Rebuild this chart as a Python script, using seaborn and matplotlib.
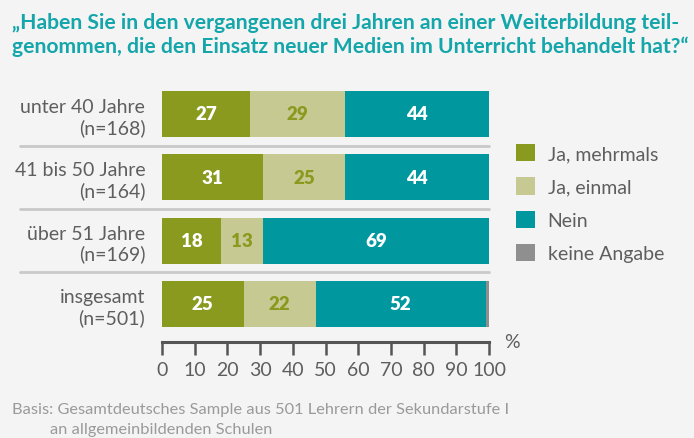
import numpy as np
import pandas as pd
import matplotlib
matplotlib.use("Agg")
import matplotlib.pyplot as plt
import matplotlib.patches as mpatches
import seaborn as sns

# Daten
gruppen = ["unter 40 Jahre\n(n=168)", "41 bis 50 Jahre\n(n=164)",
           "über 51 Jahre\n(n=169)", "insgesamt\n(n=501)"]
serien = ["Ja, mehrmals", "Ja, einmal", "Nein", "keine Angabe"]
ja_mehrmals = [27, 31, 18, 25]
ja_einmal = [29, 25, 13, 22]
nein = [44, 44, 69, 52]
keine_angabe = [0, 0, 0, 1]
x_ticks = list(range(0, 101, 10))

farben = ["#8a9a1e", "#c6c992", "#00989e", "#8f8f8f"]
label_farben = ["white", "#8a9a1e", "white", None]
bg = "#f4f4f4"
text_grau = "#5e5e5e"

sns.set_style("white")
plt.rcParams["font.family"] = ["Lato", "DejaVu Sans"]

werte = [ja_mehrmals, ja_einmal, nein, keine_angabe]
df = pd.DataFrame({"gruppe": gruppen})
kum = np.cumsum(np.array(werte), axis=0)

fig = plt.figure(figsize=(6.94, 4.39), dpi=100, facecolor=bg)
ax = fig.add_axes([162 / 694, (439 - 343) / 439, 327 / 694, 259.7 / 439])
ax.set_facecolor(bg)

# gestapelte Balken: von hinten (Summe) nach vorne zeichnen
for i in reversed(range(len(serien))):
    df["wert"] = kum[i]
    sns.barplot(data=df, x="wert", y="gruppe", color=farben[i], width=0.726,
                saturation=1, linewidth=0, ax=ax)

# Werte in die Balken
for i in range(3):
    for j, v in enumerate(werte[i]):
        links = kum[i][j] - v
        ax.text(links + v / 2, j, str(v), ha="center", va="center",
                color=label_farben[i], fontsize=13.5, fontweight="heavy")

ax.set_xlim(0, 100)
ax.set_ylim(3.6, -0.5)
ax.set_xlabel("")
ax.set_ylabel("")
ax.set_xticks(x_ticks)
ax.set_xticklabels([str(t) for t in x_ticks])

for s in ["top", "right", "left"]:
    ax.spines[s].set_visible(False)
ax.spines["bottom"].set_color("#555555")
ax.spines["bottom"].set_linewidth(2.2)
ax.tick_params(axis="x", bottom=True, direction="out", length=9.5, width=1.8,
               color="#555555", labelsize=14, labelcolor=text_grau, pad=4)
ax.tick_params(axis="y", left=False, length=0, pad=12, labelsize=14,
               labelcolor=text_grau)
for lab in ax.get_yticklabels():
    lab.set_multialignment("right")

# Trennlinien zwischen den Gruppen
for y in [0.5, 1.5, 2.5]:
    ax.axhline(y, xmin=(20 - 162) / 327, xmax=1.0, color="#c9c9c9",
               linewidth=2, clip_on=False, zorder=0)

fig.text(504 / 694, 1 - 343 / 439, "%", fontsize=14, color=text_grau,
         ha="left", va="center")

# Legende
handles = [mpatches.Patch(facecolor=c, edgecolor="none", label=l)
           for c, l in zip(farben, serien)]
leg = ax.legend(handles=handles, loc="upper left",
                bbox_to_anchor=(516 / 694, 1 - 145 / 439),
                bbox_transform=fig.transFigure, frameon=False, fontsize=14,
                handlelength=1.0, handleheight=1.0, handletextpad=0.62,
                labelspacing=0.77, borderpad=0, borderaxespad=0)
for t in leg.get_texts():
    t.set_color(text_grau)

# Titel und Fußnote
fig.text(12 / 694, 1 - 35 / 439,
         "„Haben Sie in den vergangenen drei Jahren an einer Weiterbildung teil-\n"
         "genommen, die den Einsatz neuer Medien im Unterricht behandelt hat?“",
         fontsize=15.2, fontweight="bold", color="#14a6aa", ha="left", va="center",
         linespacing=1.2)
fig.text(12 / 694, 1 - 410 / 439,
         "Basis: Gesamtdeutsches Sample aus 501 Lehrern der Sekundarstufe I",
         fontsize=11.8, color="#9a9a9a", ha="left", va="center")
fig.text(50 / 694, 1 - 430 / 439, "an allgemeinbildenden Schulen",
         fontsize=11.8, color="#9a9a9a", ha="left", va="center")

fig.savefig("out.png", dpi=100, facecolor=bg)
